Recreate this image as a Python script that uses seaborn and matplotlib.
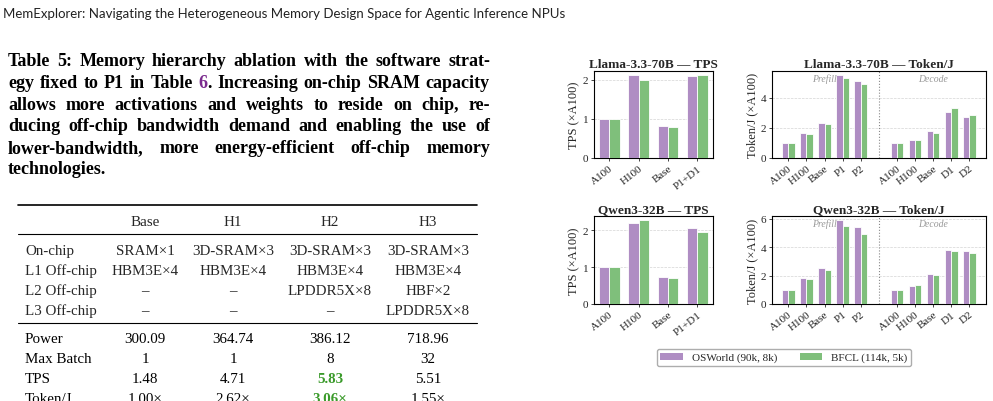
import numpy as np
import pandas as pd
import seaborn as sns
import matplotlib
matplotlib.use("Agg")
from matplotlib import pyplot as plt
from matplotlib.lines import Line2D
from matplotlib.patches import Patch
from matplotlib.ticker import MultipleLocator
from matplotlib import transforms

# ---- data ----
series = ["OSWorld (90k, 8k)", "BFCL (114k, 5k)"]
colors = ["#af8dc3", "#7fbf7b"]

tps_cats = ["A100", "H100", "Base", "P1+D1"]
tokj_cats = ["A100", "H100", "Base", "P1", "P2", "A100", "H100", "Base", "D1", "D2"]

llama_tps_osworld = [1.00, 2.12, 0.83, 2.09]
llama_tps_bfcl = [1.00, 2.00, 0.79, 2.12]
qwen_tps_osworld = [1.00, 2.20, 0.73, 2.07]
qwen_tps_bfcl = [1.00, 2.28, 0.70, 1.96]

llama_tokj_osworld = [0.97, 1.66, 2.32, 5.50, 5.13, 0.97, 1.19, 1.79, 3.07, 2.72]
llama_tokj_bfcl = [0.97, 1.61, 2.27, 5.30, 4.88, 0.97, 1.19, 1.66, 3.29, 2.85]
qwen_tokj_osworld = [0.98, 1.82, 2.53, 5.90, 5.43, 0.98, 1.29, 2.08, 3.80, 3.70]
qwen_tokj_bfcl = [0.98, 1.73, 2.41, 5.46, 4.94, 0.98, 1.31, 2.04, 3.70, 3.56]

header = "MemExplorer: Navigating the Heterogeneous Memory Design Space for Agentic Inference NPUs"
caption_lines = [
    "Table 5: Memory hierarchy ablation with the software strat-",
    "egy fixed to P1 in Table |6|. Increasing on-chip SRAM capacity",
    "allows more activations and weights to reside on chip, re-",
    "ducing off-chip bandwidth demand and enabling the use of",
    "lower-bandwidth, more energy-efficient off-chip memory",
    "technologies.",
]

table_head = ["", "Base", "H1", "H2", "H3"]
table_hw = [
    ["On-chip", "SRAM×1", "3D-SRAM×3", "3D-SRAM×3", "3D-SRAM×3"],
    ["L1 Off-chip", "HBM3E×4", "HBM3E×4", "HBM3E×4", "HBM3E×4"],
    ["L2 Off-chip", "–", "–", "LPDDR5X×8", "HBF×2"],
    ["L3 Off-chip", "–", "–", "–", "LPDDR5X×8"],
]
table_res = [
    ["Power", "300.09", "364.74", "386.12", "718.96"],
    ["Max Batch", "1", "1", "8", "32"],
    ["TPS", "1.48", "4.71", "5.83", "5.51"],
    ["Token/J", "1.00×", "2.62×", "3.06×", "1.55×"],
]
best_col = 3  # H2 highlighted in TPS and Token/J rows

# ---- style ----
sns.set_style("ticks")
plt.rcParams["font.family"] = ["Liberation Serif", "DejaVu Serif"]

W, H = 993, 402
fig = plt.figure(figsize=(W / 100, H / 100), dpi=100)


def fx(x):
    return x / W


def fy(y):
    return 1 - y / H


def axes_px(l, t, r, b):
    return fig.add_axes([fx(l), fy(b), (r - l) / W, (b - t) / H])


def bar_panel(ax, cats, osw, bfcl, title, ylabel, split=False):
    n = len(cats)
    pos = np.r_[0:5, 6:11] if split else np.arange(n)
    df = pd.DataFrame({
        "pos": np.concatenate([pos, pos]),
        "val": list(osw) + list(bfcl),
        "series": [series[0]] * n + [series[1]] * n,
    })
    sns.barplot(data=df, x="pos", y="val", hue="series", hue_order=series,
                palette=colors, native_scale=True, width=0.7, saturation=1,
                edgecolor="white", linewidth=0.6, legend=False, ax=ax, zorder=3)
    ax.set_axisbelow(True)
    ax.yaxis.grid(True, ls="--", lw=0.5, color="#d4d4d4")
    ax.xaxis.grid(False)
    ax.yaxis.set_major_locator(MultipleLocator(2 if split else 1))
    ax.set_xticks(pos)
    ax.set_xticklabels(cats, rotation=38, ha="right", rotation_mode="anchor",
                       fontsize=8)
    ax.tick_params(axis="y", labelsize=8, length=2.5, width=0.6, pad=1.5)
    ax.tick_params(axis="x", length=2.5, width=0.6, pad=1.5)
    if split:
        ax.set_xlim(-0.9, 10.92)
        ax.axvline(5, color="#888888", ls=":", lw=0.8, zorder=1)
        tr = transforms.blended_transform_factory(ax.transData, ax.transAxes)
        ax.text(2, 0.97, "Prefill", transform=tr, ha="center", va="top",
                style="italic", fontsize=7, color="#999999")
        ax.text(8, 0.97, "Decode", transform=tr, ha="center", va="top",
                style="italic", fontsize=7, color="#999999")
    else:
        ax.set_xlim(-0.52, 3.53)
    ax.set_xlabel("")
    ax.set_ylabel(ylabel, fontsize=9, labelpad=2)
    ax.set_title(title, fontsize=9.5, fontweight="bold", pad=3)
    for s in ax.spines.values():
        s.set_visible(True)
        s.set_linewidth(0.8)
        s.set_color("black")


ax1 = axes_px(594, 72, 713, 159)
ax2 = axes_px(772, 72, 986, 159)
ax3 = axes_px(594, 217, 713, 305)
ax4 = axes_px(772, 217, 986, 305)

bar_panel(ax1, tps_cats, llama_tps_osworld, llama_tps_bfcl,
          "Llama-3.3-70B — TPS", "TPS (×A100)")
bar_panel(ax2, tokj_cats, llama_tokj_osworld, llama_tokj_bfcl,
          "Llama-3.3-70B — Token/J", "Token/J (×A100)", split=True)
bar_panel(ax3, tps_cats, qwen_tps_osworld, qwen_tps_bfcl,
          "Qwen3-32B — TPS", "TPS (×A100)")
bar_panel(ax4, tokj_cats, qwen_tokj_osworld, qwen_tokj_bfcl,
          "Qwen3-32B — Token/J", "Token/J (×A100)", split=True)

handles = [Patch(facecolor=c, edgecolor="none") for c in colors]
fig.legend(handles, series, loc="center", bbox_to_anchor=(fx(784), fy(358.5)),
           ncol=2, fontsize=8, frameon=True, fancybox=True, edgecolor="#999999",
           handlelength=2.0, handleheight=0.6, columnspacing=2.1,
           borderpad=0.35, handletextpad=0.8)

# ---- page text ----
fig.text(fx(3), fy(17.5), header, family=["Lato", "DejaVu Sans"], fontsize=9.5,
         va="baseline", ha="left", color="#222222")

renderer = fig.canvas.get_renderer()


def measure(s, **kw):
    t = fig.text(0, 0, s, **kw)
    w = t.get_window_extent(renderer).width
    t.remove()
    return w


link_color = "#7b2b8e"
x0, x1 = 8, 490
base0, lead = 66.5, 21.6

# pick the caption size so the tightest line nearly fills the column
cap_kw = dict(fontsize=12, fontweight="bold", va="baseline")
nat = measure(caption_lines[1].replace("|", ""), **cap_kw)
cap_kw["fontsize"] = min(13.5, 12 * (x1 - x0) * 0.97 / nat)

for i, line in enumerate(caption_lines):
    yb = base0 + i * lead
    words = line.split(" ")
    segs = []
    for w in words:
        parts = w.split("|")
        segs.append([(p, link_color if k % 2 else "black") for k, p in enumerate(parts) if p])
    widths = [sum(measure(p, **cap_kw) for p, _ in ws) for ws in segs]
    if i < len(caption_lines) - 1 and len(words) > 1:
        gap = (x1 - x0 - sum(widths)) / (len(words) - 1)
    else:
        gap = measure("a b", **cap_kw) - measure("ab", **cap_kw)
    x = x0
    for ws, wd in zip(segs, widths):
        xx = x
        for p, c in ws:
            fig.text(fx(xx), fy(yb), p, color=c, **cap_kw)
            xx += measure(p, **cap_kw)
        x += wd + gap

# ---- table ----
def hrule(y, lw):
    fig.add_artist(Line2D([fx(18), fx(477)], [fy(y), fy(y)], lw=lw, color="black"))


col_x = [25, 145, 233, 330, 428]
tab_kw = dict(fontsize=10.8, va="baseline")
hrule(206, 1.2)
for j, s in enumerate(table_head[1:], start=1):
    fig.text(fx(col_x[j]), fy(226), s, ha="center", **tab_kw)
hrule(235, 0.8)
for i, row in enumerate(table_hw):
    yb = 255 + i * 20
    for j, s in enumerate(row):
        fig.text(fx(col_x[j]), fy(yb), s, ha="left" if j == 0 else "center", **tab_kw)
hrule(324, 0.8)
for i, row in enumerate(table_res):
    yb = 343 + i * 20
    for j, s in enumerate(row):
        hl = j == best_col and row[0] in ("TPS", "Token/J")
        fig.text(fx(col_x[j]), fy(yb), s, ha="left" if j == 0 else "center",
                 color="#3a9a2a" if hl else "black",
                 fontweight="bold" if hl else "normal", **tab_kw)

fig.savefig("out.png", dpi=100)
